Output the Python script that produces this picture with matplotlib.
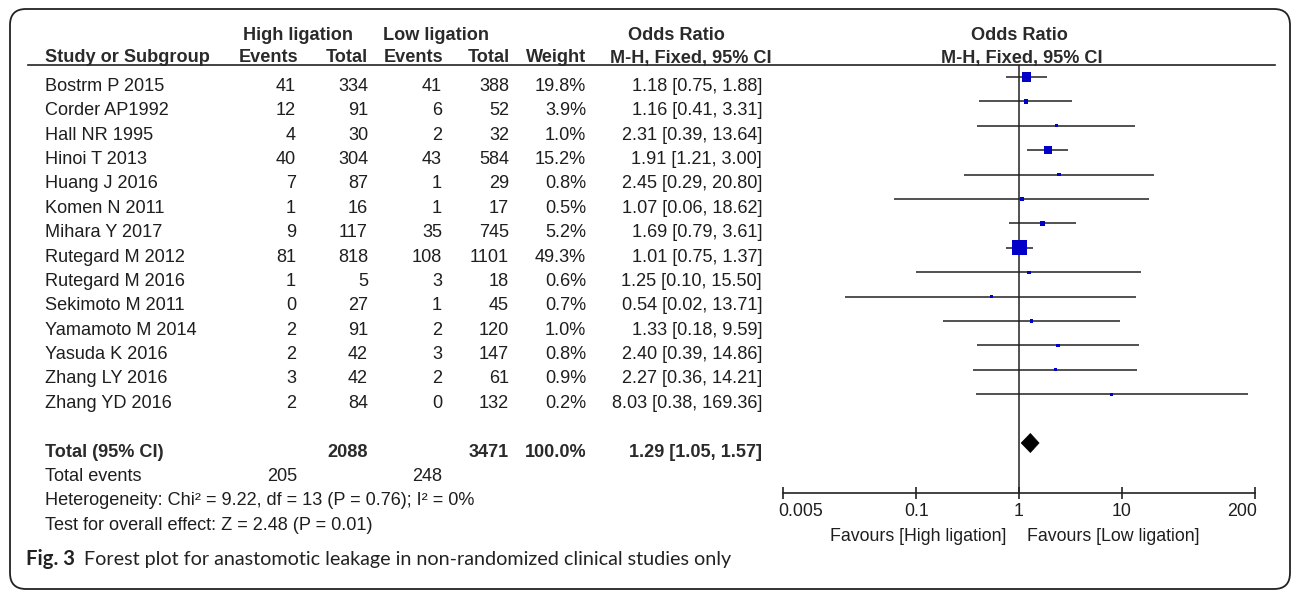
import numpy as np
import matplotlib
matplotlib.use("Agg")
import matplotlib.pyplot as plt
import matplotlib.transforms as mtransforms
from matplotlib.patches import FancyBboxPatch, Polygon

# study data
studies = ["Bostrm P 2015", "Corder AP1992", "Hall NR 1995", "Hinoi T 2013",
           "Huang J 2016", "Komen N 2011", "Mihara Y 2017", "Rutegard M 2012",
           "Rutegard M 2016", "Sekimoto M 2011", "Yamamoto M 2014",
           "Yasuda K 2016", "Zhang LY 2016", "Zhang YD 2016"]
high_events = [41, 12, 4, 40, 7, 1, 9, 81, 1, 0, 2, 2, 3, 2]
high_total = [334, 91, 30, 304, 87, 16, 117, 818, 5, 27, 91, 42, 42, 84]
low_events = [41, 6, 2, 43, 1, 1, 35, 108, 3, 1, 2, 3, 2, 0]
low_total = [388, 52, 32, 584, 29, 17, 745, 1101, 18, 45, 120, 147, 61, 132]
weight = [19.8, 3.9, 1.0, 15.2, 0.8, 0.5, 5.2, 49.3, 0.6, 0.7, 1.0, 0.8, 0.9, 0.2]
odds = [1.18, 1.16, 2.31, 1.91, 2.45, 1.07, 1.69, 1.01, 1.25, 0.54, 1.33, 2.40, 2.27, 8.03]
ci_lo = [0.75, 0.41, 0.39, 1.21, 0.29, 0.06, 0.79, 0.75, 0.10, 0.02, 0.18, 0.39, 0.36, 0.38]
ci_hi = [1.88, 3.31, 13.64, 3.00, 20.80, 18.62, 3.61, 1.37, 15.50, 13.71, 9.59, 14.86, 14.21, 169.36]

# pooled result
total_high, total_low, total_weight = 2088, 3471, 100.0
events_high, events_low = 205, 248
pooled_or, pooled_lo, pooled_hi = 1.29, 1.05, 1.57
heterogeneity = "Heterogeneity: Chi² = 9.22, df = 13 (P = 0.76); I² = 0%"
overall = "Test for overall effect: Z = 2.48 (P = 0.01)"
xticks = [0.005, 0.1, 1, 10, 200]
xticklabels = ["0.005", "0.1", "1", "10", "200"]

W, H = 1292, 592
fig = plt.figure(figsize=(W / 100, H / 100), dpi=100)
fig.patch.set_facecolor("white")

FONT = "Liberation Sans"
FS = 13.1
INK = "#1e1e1e"

# overlay in pixel coordinates for the table part
tab = fig.add_axes([0, 0, 1, 1])
tab.set_xlim(0, W)
tab.set_ylim(H, 0)
tab.axis("off")

frame = FancyBboxPatch((10, 9), 1280, 580, boxstyle="round,pad=0,rounding_size=16",
                       fc="none", ec="#222222", lw=1.3)
tab.add_patch(frame)

def put(x, y, s, ha="left", bold=False, fam=FONT, size=FS, color=INK):
    tab.text(x, y, s, ha=ha, va="baseline", fontsize=size, family=fam,
             fontweight="bold" if bold else "normal", color=color)

# header
hc = "#2a2a2a"
put(243, 40, "High ligation", bold=True, color=hc)
put(383, 40, "Low ligation", bold=True, color=hc)
put(628, 40, "Odds Ratio", bold=True, color=hc)
put(1019, 40, "Odds Ratio", ha="center", bold=True, color=hc)
put(45, 62.5, "Study or Subgroup", bold=True, color=hc)
put(298, 62.5, "Events", ha="right", bold=True, color=hc)
put(368, 62.5, "Total", ha="right", bold=True, color=hc)
put(443, 62.5, "Events", ha="right", bold=True, color=hc)
put(510, 62.5, "Total", ha="right", bold=True, color=hc)
put(586, 62.5, "Weight", ha="right", bold=True, color=hc)
put(610, 62.5, "M-H, Fixed, 95% CI", bold=True, color=hc)
put(1022, 62.5, "M-H, Fixed, 95% CI", ha="center", bold=True, color=hc)
tab.plot([28, 1275], [64.5, 64.5], color="#222222", lw=1.2)

def base(i):
    return 90.7 + 24.4 * i

for i, name in enumerate(studies):
    y = base(i)
    put(45, y, name)
    put(296, y, str(high_events[i]), ha="right")
    put(368, y, str(high_total[i]), ha="right")
    put(442, y, str(low_events[i]), ha="right")
    put(509, y, str(low_total[i]), ha="right")
    put(586, y, f"{weight[i]:.1f}%", ha="right")
    put(762, y, f"{odds[i]:.2f} [{ci_lo[i]:.2f}, {ci_hi[i]:.2f}]", ha="right")

y = base(15)
put(45, y, "Total (95% CI)", bold=True, color=hc)
put(368, y, str(total_high), ha="right", bold=True, color=hc)
put(509, y, str(total_low), ha="right", bold=True, color=hc)
put(587, y, f"{total_weight:.1f}%", ha="right", bold=True, color=hc)
put(762, y, f"{pooled_or:.2f} [{pooled_lo:.2f}, {pooled_hi:.2f}]", ha="right", bold=True, color=hc)
put(45, base(16), "Total events")
put(297, base(16), str(events_high), ha="right")
put(442, base(16), str(events_low), ha="right")
put(45, base(17), heterogeneity)
put(45, base(18), overall)

# caption
tab.text(26, 565, "Fig. 3", ha="left", va="baseline", fontsize=14.6, family="Lato",
         fontweight="bold", color="#222222")
tab.text(84, 565, "Forest plot for anastomotic leakage in non-randomized clinical studies only",
         ha="left", va="baseline", fontsize=14.2, family="Lato", color="#222222")

# forest plot
x0, x1 = 783, 1255
ytop, ybot = 64.5, 492.5
ax = fig.add_axes([x0 / W, 1 - ybot / H, (x1 - x0) / W, (ybot - ytop) / H])
ax.set_xscale("log")
ax.set_xlim(0.005, 200)
ax.set_ylim((ybot - 77) / 24.4, (ytop - 77) / 24.4)
ax.patch.set_alpha(0)
for s in ["top", "left", "right"]:
    ax.spines[s].set_visible(False)
ax.spines["bottom"].set_color("#222222")
ax.spines["bottom"].set_linewidth(1.2)
ax.set_yticks([])
ax.set_xticks(xticks)
ax.set_xticklabels(xticklabels, family=FONT, fontsize=12.8, color=INK)
ax.xaxis.set_minor_locator(matplotlib.ticker.NullLocator())
ax.tick_params(axis="x", direction="inout", length=8, width=1.2, color="#222222", pad=3.5)

# end labels sit inside the axis ends
labels = ax.get_xticklabels()
labels[0].set_ha("left")
labels[0].set_transform(labels[0].get_transform() +
                        mtransforms.ScaledTranslation(-5 / 100, 0, fig.dpi_scale_trans))
labels[-1].set_ha("right")
labels[-1].set_transform(labels[-1].get_transform() +
                         mtransforms.ScaledTranslation(2 / 100, 0, fig.dpi_scale_trans))

ax.axvline(1, color="#222222", lw=1.1, zorder=1)
rows = np.arange(len(studies))
ax.hlines(rows, ci_lo, ci_hi, color="#222222", lw=1.1, zorder=2)
side_px = np.maximum(3.2, 15.0 * np.sqrt(np.array(weight) / max(weight)))
ax.scatter(odds, rows, marker="s", s=(side_px * 0.72) ** 2, color="#0000c8",
           linewidths=0, zorder=3)

yt = 15
dh = 0.39
ax.add_patch(Polygon([[pooled_lo, yt], [pooled_or, yt - dh], [pooled_hi, yt], [pooled_or, yt + dh]],
                     closed=True, fc="black", ec="black", lw=0.5, zorder=3))

put(1006, 541, "Favours [High ligation]", ha="right", size=12.8)
put(1027, 541, "Favours [Low ligation]", ha="left", size=12.8)

fig.savefig("out.png", dpi=100)
